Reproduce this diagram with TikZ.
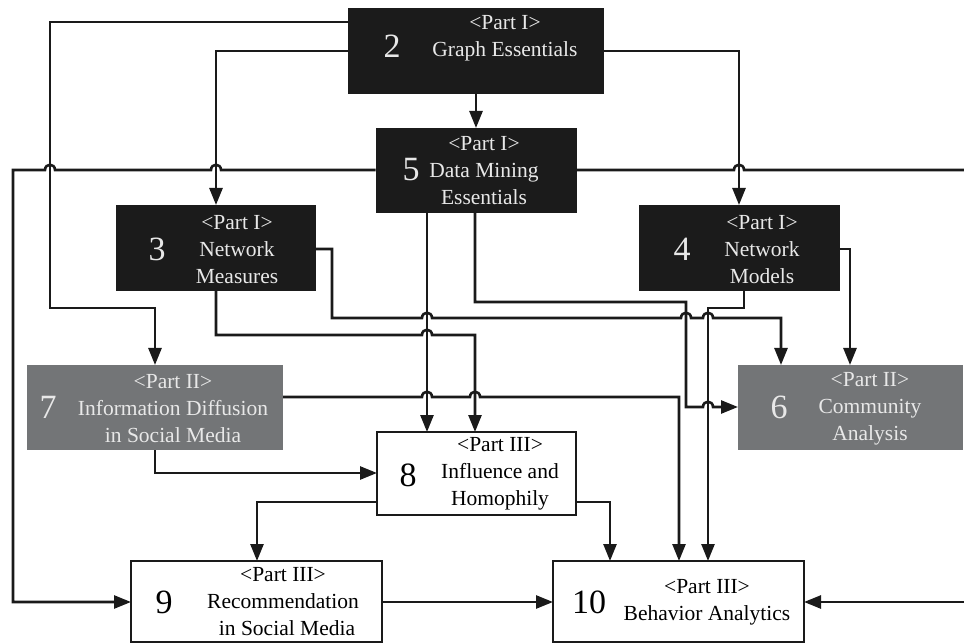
\documentclass[tikz,border=0pt]{standalone}
\usepackage{fontspec}
\setmainfont{Liberation Serif}
\usetikzlibrary{arrows.meta}

\definecolor{boxblack}{HTML}{1B1B1B}
\definecolor{boxgray}{HTML}{737577}
\definecolor{inkline}{HTML}{1A1A1A}
\definecolor{paletext}{HTML}{E8E8E8}

\tikzset{
  box/.style={rectangle, inner sep=0pt, outer sep=0pt},
  darkbox/.style={box, fill=boxblack},
  midbox/.style={box, fill=boxgray},
  openbox/.style={box, draw=inkline, line width=2.6pt, fill=white},
  chapnum/.style={inner sep=0pt, font=\fontsize{34}{34}\selectfont},
  caption/.style={inner sep=0pt, align=center, font=\fontsize{21.5}{27}\selectfont},
  onpale/.style={text=paletext},
  wire/.style={draw=inkline, line width=2.6pt},
  conn/.style={wire, -{Triangle[length=17pt,width=13pt]}},
  % small bump where a horizontal line jumps over a vertical one
  hopr/.style 2 args={insert path={-- ({#1-5},#2) .. controls ({#1-5},{#2-7}) and ({#1+5},{#2-7}) .. ({#1+5},#2)}},
  hopl/.style 2 args={insert path={-- ({#1+5},#2) .. controls ({#1+5},{#2-7}) and ({#1-5},{#2-7}) .. ({#1-5},#2)}},
}

\begin{document}
\begin{tikzpicture}[x=1pt,y=-1pt]
\useasboundingbox (0,0) rectangle (964,644);

% ---------- chapter boxes ----------
\node[darkbox, minimum width=256pt, minimum height=86pt] (n2) at (476,51) {};
\node[darkbox, minimum width=201pt, minimum height=85pt] (n5) at (476,170.5) {};
\node[darkbox, minimum width=200pt, minimum height=86pt] (n3) at (216,248) {};
\node[darkbox, minimum width=201pt, minimum height=86pt] (n4) at (739,248) {};
\node[midbox, minimum width=256pt, minimum height=85pt] (n7) at (155,407.5) {};
\node[midbox, minimum width=225pt, minimum height=85pt] (n6) at (850.5,407.5) {};
\node[openbox, minimum width=199pt, minimum height=83pt] (n8) at (476.5,473.5) {};
\node[openbox, minimum width=251pt, minimum height=81pt] (n9) at (256.5,601.5) {};
\node[openbox, minimum width=251pt, minimum height=81pt] (n10) at (678.5,601.5) {};

% ---------- chapter numbers and titles ----------
\node[chapnum, onpale] (k2) at (392,46) {2};
\node[caption, onpale] (t2) at (505,38) {<Part I>\\Graph Essentials};
\node[chapnum, onpale] (k5) at (411,170) {5};
\node[caption, onpale] (t5) at (484,171) {<Part I>\\Data Mining\\Essentials};
\node[chapnum, onpale] (k3) at (157,249) {3};
\node[caption, onpale] (t3) at (237,250) {<Part I>\\Network\\Measures};
\node[chapnum, onpale] (k4) at (682,249) {4};
\node[caption, onpale] (t4) at (762,250) {<Part I>\\Network\\Models};
\node[chapnum, onpale] (k7) at (48,407) {7};
\node[caption, onpale] (t7) at (173,409) {<Part II>\\Information Diffusion\\in Social Media};
\node[chapnum, onpale] (k6) at (779,407) {6};
\node[caption, onpale] (t6) at (870,409) {<Part II>\\Community\\Analysis};
\node[chapnum] (k8) at (408,475) {8};
\node[caption] (t8) at (500,474) {<Part III>\\Influence and\\Homophily};
\node[chapnum] (k9) at (164,602) {9};
\node[caption] (t9) at (283,602) {<Part III>\\Recommendation\\\hspace{8pt}in Social Media};
\node[chapnum] (k10) at (589,602) {10};
\node[caption] (t10) at (707,602) {<Part III>\\Behavior Analytics};

% free ends of the line that leaves the picture on the right
\coordinate (rimtop) at (964,170);
\coordinate (rimbot) at (964,602);

% ---------- connectors ----------
\draw[conn] (n2.south) -- (n2.south |- n5.north);
\draw[conn] (n2.west |- 0,22) -- (50,22) -- (50,308) -- (155,308) -- (n7.north);
\draw[conn] (n2.west |- 0,51) -- (216,51) -- (n3.north);
\draw[conn] (n2.east |- 0,51) -- (739,51) -- (n4.north);

\draw[conn] (n5.west |- 0,170) [hopl={216}{170}] [hopl={50}{170}] -- (13,170) -- (13,602) -- (n9.west |- 0,602);
\draw[wire] (n5.east |- 0,170) [hopr={739}{170}] -- (rimtop);
\draw[conn] (rimbot) -- (n10.east |- 0,602);
\draw[conn] (n5.south -| 427,0) -- (n8.north -| 427,0);
\draw[conn] (n5.south -| 475,0) -- (475,302) -- (686,302) -- (686,407) [hopr={708}{407}] -- (n6.west |- 0,407);

\draw[conn] (n3.east |- 0,249) -- (332,249) -- (332,318) [hopr={427}{318}] [hopr={686}{318}] [hopr={708}{318}] -- (781,318) -- (n6.north -| 781,0);
\draw[conn] (n3.south) -- (216,335) [hopr={427}{335}] -- (475,335) -- (n8.north -| 475,0);

\draw[conn] (n4.east |- 0,249) -- (850,249) -- (n6.north -| 850,0);
\draw[conn] (n4.south -| 744,0) -- (744,308) -- (708,308) -- (n10.north -| 708,0);

\draw[conn] (n7.east |- 0,397) [hopr={427}{397}] [hopr={475}{397}] -- (679,397) -- (n10.north -| 679,0);
\draw[conn] (n7.south) -- (155,473) -- (n8.west |- 0,473);

\draw[conn] (n8.west |- 0,502) -- (257,502) -- (n9.north -| 257,0);
\draw[conn] (n8.east |- 0,502) -- (610,502) -- (n10.north -| 610,0);

\draw[conn] (n9.east |- 0,602) -- (n10.west |- 0,602);
\end{tikzpicture}
\end{document}
